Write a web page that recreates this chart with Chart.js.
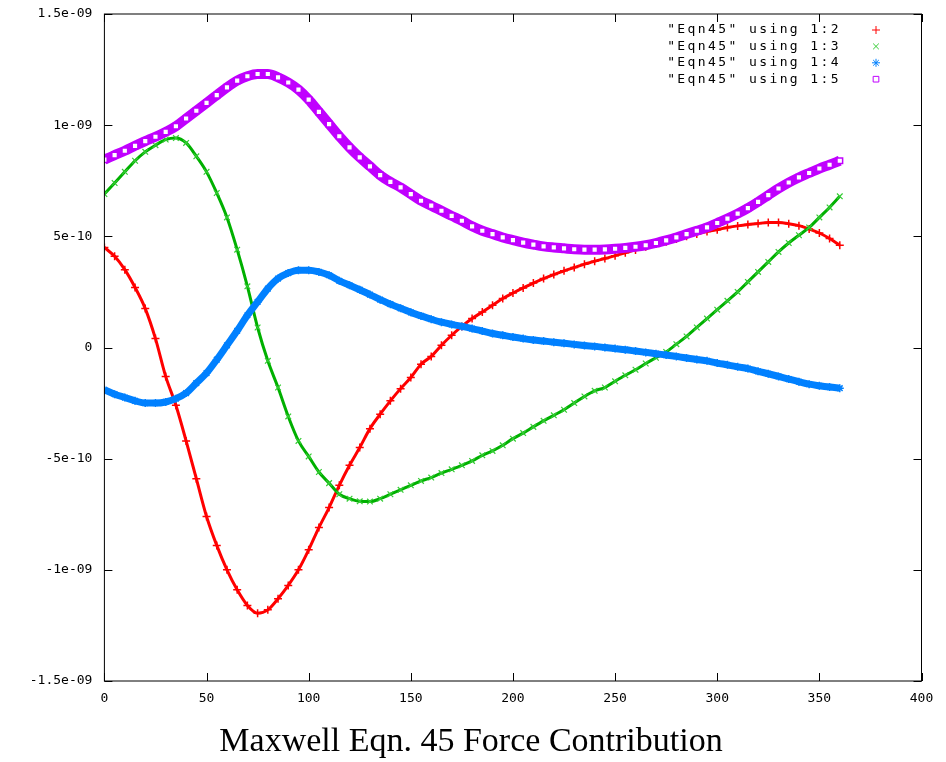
<!DOCTYPE html>
<html>
<head>
<meta charset="utf-8">
<script src="https://cdn.jsdelivr.net/npm/chart.js@4.4.1/dist/chart.umd.min.js"></script>
<style>
    html, body { margin: 0; padding: 0; background: #fff; }
    #wrap { width: 946px; height: 762px; }
</style>
</head>
<body>
<div id="wrap"><canvas id="eqn45-chart"></canvas></div>
<script>
// 角度 (x 轴)
const angles = [0, 5, 10, 15, 20, 25, 30, 35, 40, 45, 50, 55, 60, 65, 70, 75, 80, 85, 90, 95,
    100, 105, 110, 115, 120, 125, 130, 135, 140, 145, 150, 155, 160, 165, 170, 175, 180, 185, 190, 195,
    200, 205, 210, 215, 220, 225, 230, 235, 240, 245, 250, 255, 260, 265, 270, 275, 280, 285, 290, 295,
    300, 305, 310, 315, 320, 325, 330, 335, 340, 345, 350, 355, 360];

// 各列数值, 单位 1e-10
const col2 = [4.5, 4.1, 3.5, 2.7, 1.75, 0.4, -1.3, -2.6, -4.2, -5.9, -7.6, -8.9, -10.0, -10.9, -11.6, -11.95, -11.8, -11.3, -10.7, -10.0,
    -9.1, -8.1, -7.2, -6.2, -5.3, -4.5, -3.65, -3.0, -2.4, -1.85, -1.35, -0.75, -0.4, 0.1, 0.55, 0.95, 1.3, 1.6, 1.9, 2.2,
    2.45, 2.68, 2.9, 3.1, 3.28, 3.45, 3.6, 3.75, 3.88, 4.0, 4.13, 4.26, 4.39, 4.53, 4.65, 4.76, 4.88, 5.0, 5.1, 5.22,
    5.3, 5.4, 5.47, 5.53, 5.58, 5.62, 5.62, 5.57, 5.48, 5.33, 5.15, 4.9, 4.6];
const col3 = [6.9, 7.4, 7.9, 8.4, 8.8, 9.1, 9.35, 9.42, 9.2, 8.6, 7.9, 6.95, 5.85, 4.4, 2.75, 0.9, -0.6, -1.8, -3.1, -4.2,
    -4.9, -5.6, -6.1, -6.6, -6.8, -6.92, -6.93, -6.8, -6.6, -6.4, -6.2, -6.0, -5.85, -5.65, -5.48, -5.3, -5.1, -4.85, -4.65, -4.4,
    -4.1, -3.85, -3.57, -3.3, -3.05, -2.8, -2.5, -2.2, -1.95, -1.8, -1.52, -1.25, -1.0, -0.72, -0.46, -0.2, 0.15, 0.5, 0.9, 1.3,
    1.7, 2.1, 2.5, 2.95, 3.4, 3.85, 4.3, 4.7, 5.05, 5.4, 5.85, 6.3, 6.8];
const col4 = [-1.9, -2.1, -2.25, -2.4, -2.5, -2.5, -2.45, -2.3, -2.05, -1.6, -1.15, -0.55, 0.1, 0.75, 1.45, 2.05, 2.65, 3.1, 3.35, 3.48,
    3.48, 3.4, 3.25, 3.0, 2.8, 2.6, 2.38, 2.15, 1.95, 1.76, 1.58, 1.42, 1.27, 1.14, 1.04, 0.95, 0.85, 0.74, 0.63, 0.55,
    0.47, 0.4, 0.34, 0.29, 0.24, 0.19, 0.14, 0.09, 0.05, 0.0, -0.05, -0.1, -0.16, -0.22, -0.28, -0.34, -0.4, -0.47, -0.54, -0.6,
    -0.7, -0.78, -0.87, -0.95, -1.07, -1.18, -1.3, -1.42, -1.54, -1.65, -1.72, -1.78, -1.83];
const col5 = [8.45, 8.65, 8.85, 9.07, 9.28, 9.48, 9.7, 9.95, 10.3, 10.65, 11.0, 11.35, 11.7, 12.0, 12.2, 12.3, 12.3, 12.15, 11.92, 11.6,
    11.15, 10.6, 10.05, 9.5, 9.0, 8.55, 8.15, 7.75, 7.45, 7.2, 6.9, 6.6, 6.38, 6.15, 5.92, 5.7, 5.45, 5.25, 5.1, 4.95,
    4.83, 4.72, 4.63, 4.55, 4.5, 4.46, 4.42, 4.4, 4.4, 4.41, 4.44, 4.48, 4.53, 4.6, 4.7, 4.82, 4.95, 5.1, 5.25, 5.4,
    5.6, 5.8, 6.02, 6.27, 6.55, 6.85, 7.15, 7.42, 7.65, 7.85, 8.05, 8.22, 8.4];
const unit = 1e-10;

// 图例与刻度
const seriesLabels = ['"Eqn45" using 1:2', '"Eqn45" using 1:3', '"Eqn45" using 1:4', '"Eqn45" using 1:5'];
const xTickValues = [0, 50, 100, 150, 200, 250, 300, 350, 400];
const yTickValues = [-1.5e-9, -1e-9, -5e-10, 0, 5e-10, 1e-9, 1.5e-9];
const yTickLabels = ['-1.5e-09', '-1e-09', '-5e-10', '0', '5e-10', '1e-09', '1.5e-09'];
const chartTitle = 'Maxwell Eqn. 45 Force Contribution';

const monoFont = { family: '"DejaVu Sans Mono", monospace', size: 13 };

function toPoints(values) {
    return angles.map((a, i) => ({ x: a, y: values[i] * unit }));
}

// 外框、内向刻度、图例和标题
const gnuFrame = {
    id: 'gnuFrame',
    afterDraw(chart) {
        const ctx = chart.ctx;
        const area = chart.chartArea;
        const xs = chart.scales.x;
        const ys = chart.scales.y;
        const tick = 8;
        ctx.save();
        ctx.strokeStyle = '#000';
        ctx.lineWidth = 1;
        ctx.strokeRect(area.left, area.top, area.right - area.left, area.bottom - area.top);
        ctx.beginPath();
        xTickValues.forEach(v => {
            const px = Math.round(xs.getPixelForValue(v)) + 0.5;
            ctx.moveTo(px, area.bottom); ctx.lineTo(px, area.bottom - tick);
            ctx.moveTo(px, area.top); ctx.lineTo(px, area.top + tick);
        });
        yTickValues.forEach(v => {
            const py = Math.round(ys.getPixelForValue(v)) + 0.5;
            ctx.moveTo(area.left, py); ctx.lineTo(area.left + tick, py);
            ctx.moveTo(area.right, py); ctx.lineTo(area.right - tick, py);
        });
        ctx.stroke();

        // 图例
        ctx.font = '13px "DejaVu Sans Mono", monospace';
        ctx.letterSpacing = '2.4px';
        ctx.textAlign = 'right';
        ctx.textBaseline = 'middle';
        chart.data.datasets.forEach((ds, i) => {
            const y = 30 + i * 16.4;
            ctx.fillStyle = '#000';
            ctx.fillText(ds.label, 841, y);
            ctx.strokeStyle = ds.pointBorderColor;
            ctx.fillStyle = ds.pointBackgroundColor;
            Chart.helpers.drawPoint(ctx, {
                pointStyle: ds.pointStyle,
                radius: 4,
                rotation: 0,
                borderWidth: 1.5
            }, 876, y);
        });

        // 标题
        ctx.letterSpacing = '0px';
        ctx.textAlign = 'center';
        ctx.fillStyle = '#000';
        ctx.font = '34px "Liberation Serif", serif';
        ctx.fillText(chartTitle, 471, 742);
        ctx.restore();
    }
};

new Chart(document.getElementById('eqn45-chart'), {
    type: 'line',
    data: {
        datasets: [
            {
                label: seriesLabels[0],
                data: toPoints(col2),
                borderColor: '#ff0000',
                borderWidth: 3,
                pointStyle: 'cross',
                pointRadius: 4,
                pointBorderWidth: 1.5,
                pointBorderColor: '#ff0000',
                pointBackgroundColor: '#ff0000',
                order: 3
            },
            {
                label: seriesLabels[1],
                data: toPoints(col3),
                borderColor: '#00b000',
                borderWidth: 3,
                pointStyle: 'crossRot',
                pointRadius: 4,
                pointBorderWidth: 1.2,
                pointBorderColor: '#33cc33',
                pointBackgroundColor: '#33cc33',
                order: 2
            },
            {
                label: seriesLabels[2],
                data: toPoints(col4),
                borderColor: '#0080ff',
                borderWidth: 7,
                pointStyle: 'star',
                pointRadius: 4,
                pointBorderWidth: 1.5,
                pointBorderColor: '#0080ff',
                pointBackgroundColor: '#0080ff',
                order: 1
            },
            {
                label: seriesLabels[3],
                data: toPoints(col5),
                borderColor: '#c000ff',
                borderWidth: 10,
                pointStyle: 'rect',
                pointRadius: 4,
                pointBorderWidth: 1.5,
                pointBorderColor: '#c000ff',
                pointBackgroundColor: '#ffffff',
                order: 0
            }
        ]
    },
    options: {
        responsive: true,
        maintainAspectRatio: false,
        animation: false,
        devicePixelRatio: 1,
        cubicInterpolationMode: 'monotone',
        layout: { padding: { top: 14, right: 24.5, left: 0, bottom: 0 } },
        plugins: {
            legend: { display: false },
            tooltip: { enabled: false }
        },
        scales: {
            x: {
                type: 'linear',
                min: 0,
                max: 400,
                afterBuildTicks: s => { s.ticks = xTickValues.map(v => ({ value: v })); },
                afterFit: s => { s.height = 81; },
                grid: { display: false },
                border: { display: false },
                ticks: { font: monoFont, color: '#000', padding: 2, maxRotation: 0 }
            },
            y: {
                min: -1.5e-9,
                max: 1.5e-9,
                afterBuildTicks: s => { s.ticks = yTickValues.map(v => ({ value: v })); },
                afterFit: s => { s.width = 104.4; },
                grid: { display: false },
                border: { display: false },
                ticks: {
                    font: monoFont,
                    color: '#000',
                    padding: 4,
                    callback: (value, index) => yTickLabels[index]
                }
            }
        }
    },
    plugins: [gnuFrame]
});
</script>
</body>
</html>
